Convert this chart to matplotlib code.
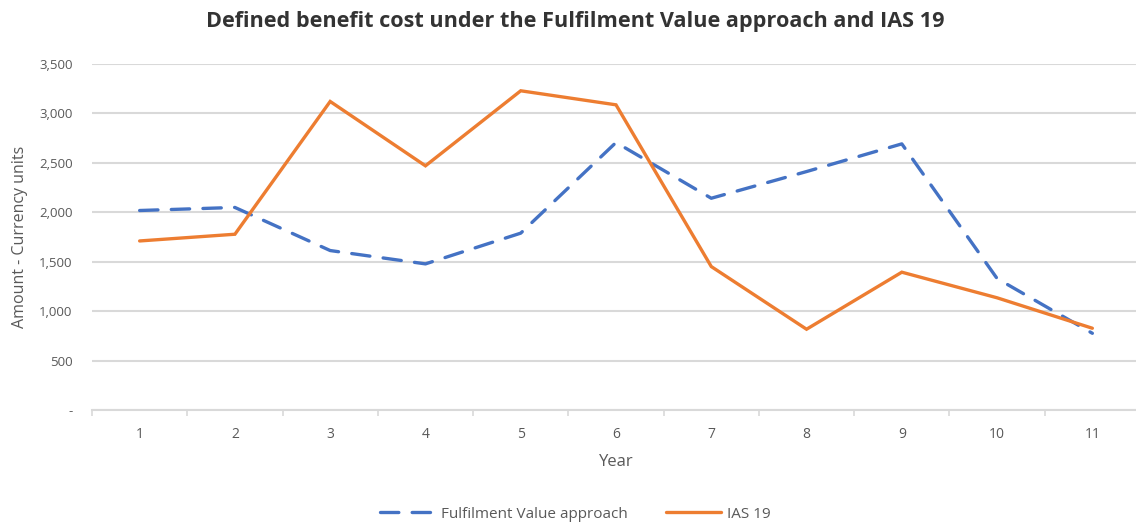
import matplotlib.pyplot as plt
from matplotlib.ticker import FuncFormatter

# data
years = [1, 2, 3, 4, 5, 6, 7, 8, 9, 10, 11]
fulfilment = [2018, 2049, 1613, 1478, 1789, 2706, 2142, 2412, 2692, 1330, 776]
ias19 = [1710, 1778, 3121, 2470, 3229, 3087, 1451, 817, 1394, 1135, 827]

blue = '#4472C4'
orange = '#ED7D31'
grey_txt = '#595959'
grid_col = '#d9d9d9'

plt.rcParams['font.family'] = ['Open Sans', 'DejaVu Sans']

fig = plt.figure(figsize=(11.36, 5.23), dpi=100)
ax = fig.add_axes([92 / 1136, 1 - 410 / 523, 1048 / 1136, 346 / 523])

ax.plot(years, fulfilment, color=blue, lw=2.4, dashes=(5.5, 4),
        dash_capstyle='round', label='Fulfilment Value approach')
ax.plot(years, ias19, color=orange, lw=2.4, solid_capstyle='round',
        solid_joinstyle='miter', label='IAS 19')

ax.set_xlim(0.5, 11.5)
ax.set_ylim(0, 3500)
ax.set_yticks(range(0, 3501, 500))
ax.yaxis.set_major_formatter(FuncFormatter(lambda v, p: '-' if v == 0 else f'{int(v):,}'))
ax.set_xticks(years)
ax.set_xticks([y + 0.5 for y in range(0, 12)], minor=True)

ax.grid(axis='y', color=grid_col, lw=1.5)
ax.set_axisbelow(True)
for s in ['top', 'right', 'left']:
    ax.spines[s].set_visible(False)
ax.spines['bottom'].set_color(grid_col)
ax.spines['bottom'].set_linewidth(1.5)

ax.tick_params(axis='y', length=0, pad=14, labelsize=9.5, labelcolor=grey_txt)
ax.tick_params(axis='x', which='major', length=0, pad=12, labelsize=10, labelcolor=grey_txt)
ax.tick_params(axis='x', which='minor', length=4, width=1.2, color=grid_col)

ax.set_xlabel('Year', fontsize=12, color=grey_txt, labelpad=9)
ax.set_ylabel('Amount - Currency units', fontsize=11.5, color=grey_txt, labelpad=8)

fig.text(575 / 1136, 1 - 22 / 523, 'Defined benefit cost under the Fulfilment Value approach and IAS 19',
         ha='center', va='center', fontsize=15.6, fontweight='bold', color='#333333')

fig.legend(loc='center', bbox_to_anchor=(575 / 1136, 1 - 514 / 523), ncol=2,
           frameon=False, fontsize=11, labelcolor=grey_txt, handlelength=3.6,
           columnspacing=2.5, handletextpad=0.4)

fig.savefig('out.png', dpi=100)
